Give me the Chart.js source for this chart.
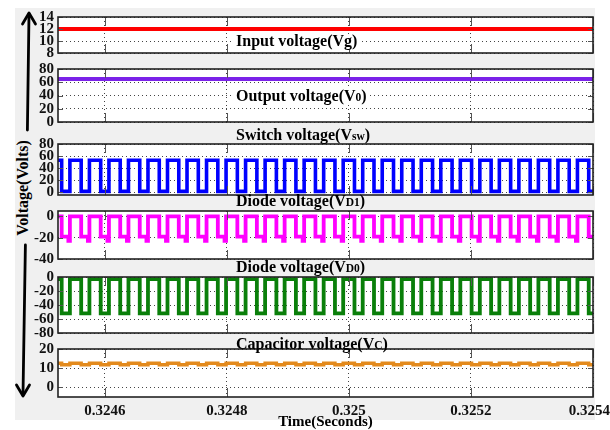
<!DOCTYPE html>
<html>
<head>
<meta charset="utf-8">
<title>Converter waveforms</title>
<script src="https://cdn.jsdelivr.net/npm/chart.js@4.4.1/dist/chart.umd.min.js"></script>
<style>
  html, body { margin: 0; padding: 0; background: #fff; }
  #wrap { position: relative; width: 610px; height: 430px; overflow: hidden; }
  #backdrop { position: absolute; left: 15px; top: 8px; width: 580px; height: 412px; background: #f0f0f0; }
  #wrap canvas { position: absolute; left: 0; }
  #arrows { position: absolute; left: 0; top: 0; }
  #ylabel {
    position: absolute; left: 23px; top: 188px;
    transform: translate(-50%, -50%) rotate(-90deg);
    font: bold 16px "Liberation Serif", "Times New Roman", serif;
    white-space: nowrap; color: #000;
  }
</style>
</head>
<body>
<div id="wrap">
  <div id="backdrop"></div>
  <svg id="arrows" width="610" height="430">
    <g stroke="#000" stroke-width="2.8" fill="none" stroke-linecap="round" stroke-linejoin="round">
      <line x1="29" y1="14" x2="27.4" y2="130"/>
      <polyline points="22.5,24 29,13 35.5,24"/>
      <line x1="25.4" y1="245" x2="23" y2="395"/>
      <polyline points="16.5,385 23,396 29.5,385"/>
    </g>
  </svg>
  <div id="ylabel">Voltage(Volts)</div>
</div>
<script>
const SERIF = '"Liberation Serif", "Times New Roman", serif';

// time base: everything below is in microseconds after T0
const T0 = 0.3245;
const tStart = 23;
const tEnd = 900;
const xTicks = [0.3246, 0.3248, 0.325, 0.3252, 0.3254];
const xTickLabels = ['0.3246', '0.3248', '0.325', '0.3252', '0.3254\u00a0\u00a0'];

// switch turn-on (Vsw falls) and turn-off (Vsw rises) instants
const swOn = [29, 61, 93, 125, 157, 189, 221, 253, 285, 317, 349, 381, 413, 445,
              477, 509, 541, 573, 605, 637, 669, 701, 733, 765, 797, 829, 861, 893];
const swOff = [42.5, 74.5, 106.5, 138.5, 170.5, 202.5, 234.5, 266.5, 298.5, 330.5, 362.5, 394.5, 426.5, 458.5,
               490.5, 522.5, 554.5, 586.5, 618.5, 650.5, 682.5, 714.5, 746.5, 778.5, 810.5, 842.5, 874.5, 906.5];

// steady traces
const steadyT = [23, 900];
const vg = [12, 12];
const vo = [65, 65];

// levels of the switched traces (off state / on state)
const vswLevels = [53, 1];
const vd1Levels = [0, -19];
const vd1Dip = -23;          // short spike at the end of each on interval
const vd1DipUs = 2.5;
const vd0Levels = [-3, -52];
const vcLevels = [12.6, 11.8];

// y axis ticks of each panel
const yTicksVg = [8, 10, 12, 14];
const yTicksVo = [0, 20, 40, 60, 80];
const yTicksVsw = [0, 20, 40, 60, 80];
const yTicksVd1 = [-40, -20, 0];
const yTicksVd0 = [-80, -60, -40, -20, 0];
const yTicksVc = [0, 10, 20];

const toSec = us => T0 + us * 1e-6;

function steady(values) {
  return steadyT.map((t, i) => ({ x: toSec(t), y: values[i] }));
}

function pulses(levels, dip) {
  const [hi, lo] = levels;
  const pts = [{ x: tStart, y: hi }];
  swOn.forEach((on, i) => {
    const off = swOff[i];
    pts.push({ x: on, y: hi }, { x: on, y: lo });
    if (dip !== undefined) {
      pts.push({ x: off - vd1DipUs, y: lo }, { x: off - vd1DipUs, y: dip }, { x: off, y: dip });
    } else {
      pts.push({ x: off, y: lo });
    }
    pts.push({ x: off, y: hi });
  });
  return pts.map(p => ({ x: toSec(p.x), y: p.y }));
}

const panels = [
  { top: 17, bottom: 53, min: 8, max: 14, ticks: yTicksVg, color: '#ff0000', width: 4,
    points: steady(vg), title: [['Input voltage(Vg)']], titleY: 42, titleBg: true },
  { top: 69, bottom: 122, min: 0, max: 80, ticks: yTicksVo, color: '#7a22e8', width: 4,
    points: steady(vo), title: [['Output voltage(V'], ['0', 1], [')']], titleY: 97, titleBg: true },
  { top: 144, bottom: 195, min: -5, max: 80, ticks: yTicksVsw, color: '#0000ff', width: 3.6,
    points: pulses(vswLevels), title: [['Switch voltage(V'], ['sw', 1], [')']], titleY: 136 },
  { top: 211, bottom: 259, min: -40, max: 5, ticks: yTicksVd1, color: '#ff00ff', width: 3.8,
    points: pulses(vd1Levels, vd1Dip), title: [['Diode voltage(V'], ['D1', 1], [')']], titleY: 202 },
  { top: 277, bottom: 333, min: -80, max: 0, ticks: yTicksVd0, color: '#0a7f0a', width: 3.8,
    points: pulses(vd0Levels), title: [['Diode voltage(V'], ['D0', 1], [')']], titleY: 268 },
  { top: 349, bottom: 397, min: -5, max: 20, ticks: yTicksVc, color: '#e38a1d', width: 3.4,
    points: pulses(vcLevels), title: [['Capacitor voltage(V'], ['C', 1], [')']], titleY: 345 }
];

// white plot box, frame, inward tick marks and the panel caption
const panelFrame = {
  id: 'panelFrame',
  beforeDraw(chart) {
    const { ctx, chartArea: a } = chart;
    ctx.save();
    ctx.fillStyle = '#fff';
    ctx.fillRect(a.left, a.top, a.right - a.left, a.bottom - a.top);
    ctx.restore();
  },
  afterDraw(chart, args, opts) {
    const { ctx, chartArea: a } = chart;
    const xs = chart.scales.x, ys = chart.scales.y;
    ctx.save();
    ctx.strokeStyle = '#555';
    ctx.lineWidth = 1;
    ctx.beginPath();
    xs.ticks.forEach(t => {
      const px = Math.round(xs.getPixelForValue(t.value)) + 0.5;
      ctx.moveTo(px, a.top); ctx.lineTo(px, a.top + 9);
      ctx.moveTo(px, a.bottom); ctx.lineTo(px, a.bottom - 9);
    });
    ys.ticks.forEach(t => {
      const py = Math.round(ys.getPixelForValue(t.value)) + 0.5;
      ctx.moveTo(a.left, py); ctx.lineTo(a.left + 5, py);
      ctx.moveTo(a.right, py); ctx.lineTo(a.right - 5, py);
    });
    ctx.stroke();
    ctx.strokeStyle = '#222';
    ctx.lineWidth = 1.6;
    ctx.strokeRect(a.left, a.top, a.right - a.left, a.bottom - a.top);

    // caption with a smaller subscript part
    const big = 'bold 16px ' + SERIF, small = 'bold 11.5px ' + SERIF;
    let x = opts.x;
    const y = opts.y;
    ctx.textBaseline = 'middle';
    let w = 0;
    opts.parts.forEach(p => { ctx.font = p[1] ? small : big; w += ctx.measureText(p[0]).width; });
    if (opts.bg) {
      ctx.fillStyle = '#fff';
      ctx.fillRect(x - 2, y - 8, w + 4, 16);
    }
    ctx.fillStyle = '#000';
    opts.parts.forEach(p => {
      ctx.font = p[1] ? small : big;
      ctx.fillText(p[0], x, p[1] ? y + 1.5 : y);
      x += ctx.measureText(p[0]).width;
    });
    ctx.restore();
  }
};

const wrap = document.getElementById('wrap');

panels.forEach((p, i) => {
  const last = i === panels.length - 1;
  const padTop = 24;
  const padBottom = last ? 0 : 10;
  const axisH = last ? 33 : 0;
  const canvas = document.createElement('canvas');
  canvas.width = 610;
  canvas.height = padTop + (p.bottom - p.top) + padBottom + axisH;
  canvas.style.top = (p.top - padTop) + 'px';
  wrap.appendChild(canvas);

  new Chart(canvas, {
    type: 'line',
    data: {
      datasets: [{
        data: p.points,
        borderColor: p.color,
        borderWidth: p.width,
        pointRadius: 0,
        fill: false,
        tension: 0,
        borderJoinStyle: 'miter'
      }]
    },
    options: {
      responsive: false,
      animation: false,
      devicePixelRatio: 1,
      events: [],
      layout: { padding: { left: 0, right: 17, top: padTop, bottom: padBottom } },
      plugins: {
        legend: { display: false },
        tooltip: { enabled: false },
        panelFrame: { parts: p.title, x: 236, y: p.titleY - (p.top - padTop), bg: !!p.titleBg }
      },
      scales: {
        x: {
          type: 'linear',
          min: toSec(tStart),
          max: toSec(tEnd),
          afterBuildTicks: s => { s.ticks = xTicks.map(v => ({ value: v })); },
          afterFit: s => { s.height = axisH; s.paddingLeft = 0; s.paddingRight = 0; },
          grid: { color: '#444', lineWidth: 1, drawTicks: false },
          border: { display: false, dash: [1, 3] },
          ticks: {
            display: last,
            autoSkip: false,
            maxRotation: 0,
            padding: 5,
            color: '#111',
            font: { family: SERIF, size: 15, weight: 'bold' },
            callback: (v, idx) => xTickLabels[idx]
          },
          title: {
            display: last,
            text: 'Time(Seconds)',
            color: '#000',
            padding: 0,
            font: { family: SERIF, size: 15, weight: 'bold', lineHeight: 1 }
          }
        },
        y: {
          min: p.min,
          max: p.max,
          afterBuildTicks: s => { s.ticks = p.ticks.map(v => ({ value: v })); },
          afterFit: s => { s.width = 58; s.paddingTop = 0; s.paddingBottom = 0; },
          grid: { color: '#444', lineWidth: 1, drawTicks: false },
          border: { display: false, dash: [1, 3] },
          ticks: {
            autoSkip: false,
            padding: 4,
            color: '#111',
            font: { family: SERIF, size: 15, weight: 'bold' }
          }
        }
      }
    },
    plugins: [panelFrame]
  });
});
</script>
</body>
</html>
